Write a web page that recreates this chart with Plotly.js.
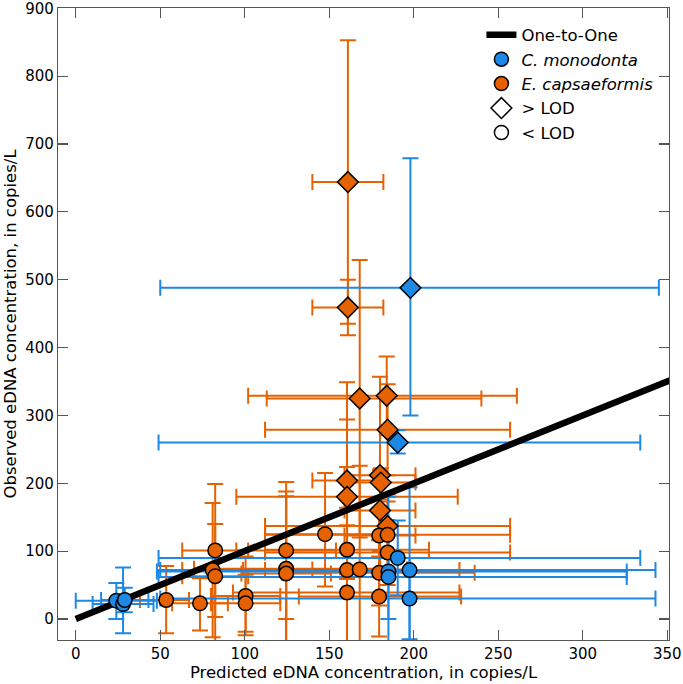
<!DOCTYPE html>
<html>
<head>
<meta charset="utf-8">
<script src="https://cdn.plot.ly/plotly-3.0.1.min.js"></script>
<style>html,body{margin:0;padding:0;background:#fff;}#chart{width:683px;height:684px;}</style>
</head>
<body>
<div id="chart"></div>
<script>
// E. capsaeformis
const orangeX   = [161,161,168,184,184.5,160.5,180,180.5,160.5,180,184.5,147.5,179.5,184.5,160.5,184.5,82.5,124.5,81,82.5,124.5,124.5,160.5,168,179.5,160.5,179.5,53.5,73.5,100.5,100.5];
const orangeY   = [644,459,325,329,279,204,212,201,180,160,137,125,123,124,102,98,101,101,72,63,74,67,72,73,68,39,33,28,23,34,23];
const orangeXlo = [140,140,113,102,112,140,159,160,95,159,112,112,159,112,112,112,63,95,63,63,70,98,112,140,122,93,132,38,57,80,80];
const orangeXhi = [182,182,240,261,257,181,201,201,226,201,257,183,201,257,209,257,102,154,99,102,180,151,227,196,236,227,228,67,90,121,121];
const orangeYlo = [435,418,120,271,212,59,67,180,66,100,90,48,70,75,40,50,3,0,-27,-45,-40,-50,-80,-80,20,-60,-26,-21,-17,-24,-19];
const orangeYhi = [853,500,529,387,346,349,357,222,294,220,184,215,176,173,164,146,199,202,171,140,188,181,224,226,116,138,92,78,60,92,65];
const orangeAboveLOD = [1,1,1,1,1,1,1,1,1,1,1,0,0,0,0,0,0,0,0,0,0,0,0,0,0,0,0,0,0,0,0];

// C. monodonta
const blueX   = [198,190.5,190.5,185,185,197.5,197.5,24,28,29];
const blueY   = [488,260,90,70,62,72,30,27,22,28];
const blueXlo = [50,49,49,48,49,50,50,0,10,15];
const blueXhi = [345,334,334,326,326,343,343,48,46,43];
const blueYlo = [300,244,35,-40,0,-50,-30,0,-21,10];
const blueYhi = [679,278,145,180,124,194,90,53,76,46];
const blueAboveLOD = [1,1,0,0,0,0,0,0,0,0];

const oneToOneX = [0, 360];
const oneToOneY = [0, 360];

const ORANGE = '#E66100';
const BLUE = '#1E88E5';

function errTrace(x, y, xlo, xhi, ylo, yhi, color) {
  return {
    type: 'scatter', mode: 'markers', x: x, y: y, showlegend: false, hoverinfo: 'skip',
    marker: {size: 1, opacity: 0},
    error_x: {type: 'data', symmetric: false,
      array: x.map((v, i) => xhi[i] - v), arrayminus: x.map((v, i) => v - xlo[i]),
      color: color, thickness: 2, width: 8},
    error_y: {type: 'data', symmetric: false,
      array: y.map((v, i) => yhi[i] - v), arrayminus: y.map((v, i) => v - ylo[i]),
      color: color, thickness: 2, width: 8}
  };
}
function markTrace(x, y, lod, color) {
  return {
    type: 'scatter', mode: 'markers', x: x, y: y, showlegend: false,
    marker: {
      color: color, opacity: 1,
      symbol: lod.map(v => v ? 'diamond' : 'circle'),
      size: lod.map(v => v ? 16 : 14.5),
      line: {color: '#000', width: 1.5}
    }
  };
}

const traces = [
  errTrace(orangeX, orangeY, orangeXlo, orangeXhi, orangeYlo, orangeYhi, ORANGE),
  errTrace(blueX, blueY, blueXlo, blueXhi, blueYlo, blueYhi, BLUE),
  {type: 'scatter', mode: 'lines', x: oneToOneX, y: oneToOneY, name: 'One-to-One',
   line: {color: '#000', width: 6.5}, showlegend: true},
  markTrace(orangeX, orangeY, orangeAboveLOD, ORANGE),
  markTrace(blueX, blueY, blueAboveLOD, BLUE),
  {type: 'scatter', mode: 'markers', x: [null], y: [null], name: '<i>C. monodonta</i>',
   marker: {color: BLUE, symbol: 'circle', size: 14, line: {color: '#000', width: 1.5}}},
  {type: 'scatter', mode: 'markers', x: [null], y: [null], name: '<i>E. capsaeformis</i>',
   marker: {color: ORANGE, symbol: 'circle', size: 14, line: {color: '#000', width: 1.5}}},
  {type: 'scatter', mode: 'markers', x: [null], y: [null], name: '> LOD',
   marker: {color: '#fff', symbol: 'diamond', size: 16, line: {color: '#000', width: 1.5}}},
  {type: 'scatter', mode: 'markers', x: [null], y: [null], name: '< LOD',
   marker: {color: '#fff', symbol: 'circle', size: 14, line: {color: '#000', width: 1.5}}}
];

const axisCommon = {
  showgrid: false, zeroline: false, showline: true, mirror: 'ticks',
  linecolor: '#555', linewidth: 1.2, ticks: 'inside', ticklen: 10, tickwidth: 1.2, tickcolor: '#555',
  ticklabeloverflow: 'allow',
  tickfont: {family: 'DejaVu Sans', size: 15, color: '#000'}
};

const layout = {
  width: 683, height: 684,
  margin: {l: 58, r: 14, t: 8, b: 44},
  paper_bgcolor: '#fff', plot_bgcolor: '#fff',
  font: {family: 'DejaVu Sans', size: 15, color: '#000'},
  xaxis: Object.assign({}, axisCommon, {
    range: [-10.5, 351], tickvals: [0,50,100,150,200,250,300,350],
    title: {text: 'Predicted eDNA concentration, in copies/L', font: {family: 'DejaVu Sans', size: 16.5}, standoff: 4}
  }),
  yaxis: Object.assign({}, axisCommon, {
    range: [-31, 900.5], tickvals: [0,100,200,300,400,500,600,700,800,900],
    title: {text: 'Observed eDNA concentration, in copies/L', font: {family: 'DejaVu Sans', size: 16.5}, standoff: 4}
  }),
  legend: {x: 0.693, y: 0.985, xanchor: 'left', yanchor: 'top', bgcolor: 'rgba(0,0,0,0)',
    font: {family: 'DejaVu Sans', size: 16.5}, tracegroupgap: 0},
  showlegend: true
};

Plotly.newPlot('chart', traces, layout, {displayModeBar: false, staticPlot: true});
</script>
</body>
</html>
